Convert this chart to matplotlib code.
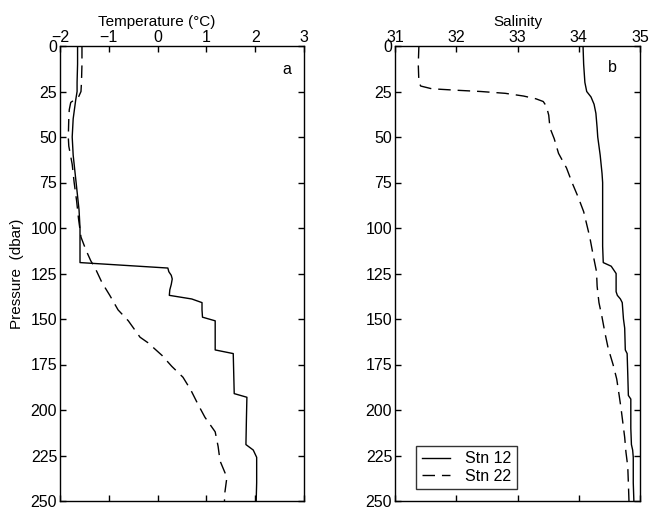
import matplotlib.pyplot as plt
import numpy as np

plt.rcParams['font.family'] = ['Liberation Sans', 'DejaVu Sans']

# Temperature profiles (pressure in dbar, temperature in degC)
p_t12 = [0, 10, 20, 25, 30, 40, 50, 60, 75, 90, 100, 110, 119, 122, 124, 126, 128, 131,
         134, 137, 139, 141, 145, 149, 151, 160, 167, 169, 180, 191, 193, 205, 219, 222,
         226, 240, 250]
t_stn12 = [-1.64, -1.64, -1.65, -1.65, -1.68, -1.73, -1.75, -1.73, -1.67, -1.61, -1.59,
           -1.59, -1.59, 0.21, 0.23, 0.28, 0.30, 0.28, 0.25, 0.24, 0.70, 0.91, 0.91, 0.92,
           1.18, 1.18, 1.18, 1.55, 1.56, 1.57, 1.83, 1.82, 1.81, 1.96, 2.03, 2.03, 2.02]

p_t22 = [0, 10, 20, 25, 28, 31, 35, 40, 50, 55, 65, 75, 85, 95, 105, 112, 118, 122, 130,
         137, 145, 151, 160, 163, 170, 176, 182, 189, 197, 204, 212, 220, 228, 237, 245, 250]
t_stn22 = [-1.55, -1.55, -1.56, -1.57, -1.62, -1.78, -1.81, -1.82, -1.83, -1.82, -1.75,
           -1.71, -1.66, -1.62, -1.57, -1.47, -1.37, -1.28, -1.14, -0.98, -0.81, -0.60,
           -0.36, -0.20, 0.09, 0.29, 0.52, 0.68, 0.83, 0.97, 1.18, 1.24, 1.28, 1.42, 1.38,
           1.37]

# Salinity profiles
p_s12 = [0, 10, 15, 20, 25, 28, 32, 37, 45, 50, 60, 70, 75, 90, 110, 119, 121, 123, 125,
         135, 137, 139, 141, 150, 155, 167, 169, 180, 192, 194, 210, 219, 222, 226, 240, 250]
s_stn12 = [34.07, 34.08, 34.09, 34.10, 34.13, 34.20, 34.25, 34.28, 34.30, 34.31, 34.35,
           34.38, 34.39, 34.39, 34.39, 34.40, 34.53, 34.57, 34.61, 34.61, 34.63, 34.68,
           34.71, 34.73, 34.75, 34.76, 34.79, 34.80, 34.81, 34.85, 34.85, 34.86, 34.88,
           34.89, 34.89, 34.90]

p_s22 = [0, 10, 20, 22, 23.5, 24.3, 25, 26, 27.5, 29, 30.5, 33, 38, 45, 51, 59, 67, 75,
         83, 91, 105, 114, 124, 132, 141, 149, 158, 166, 175, 183, 192, 199, 207, 215,
         223, 231, 240, 250]
s_stn22 = [31.39, 31.38, 31.39, 31.42, 31.60, 32.0, 32.4, 32.8, 33.1, 33.3, 33.42, 33.47,
           33.51, 33.53, 33.60, 33.67, 33.80, 33.89, 33.99, 34.08, 34.18, 34.23, 34.29,
           34.30, 34.33, 34.38, 34.43, 34.48, 34.56, 34.62, 34.66, 34.69, 34.72, 34.75,
           34.77, 34.80, 34.81, 34.82]

p_ticks = [0, 25, 50, 75, 100, 125, 150, 175, 200, 225, 250]
t_ticks = [-2, -1, 0, 1, 2, 3]
s_ticks = [31, 32, 33, 34, 35]

dash = (0, (9, 5))
fs = 11.5

fig = plt.figure(figsize=(6.52, 5.09), dpi=100)
ax1 = fig.add_axes([60 / 652, 8 / 509, 244 / 652, 455 / 509])
ax2 = fig.add_axes([395 / 652, 8 / 509, 245 / 652, 455 / 509])

ax1.plot(t_stn12, p_t12, color='black', lw=1.0, label='Stn 12')
ax1.plot(t_stn22, p_t22, color='black', lw=1.0, linestyle=dash, label='Stn 22')
ax2.plot(s_stn12, p_s12, color='black', lw=1.0, label='Stn 12')
ax2.plot(s_stn22, p_s22, color='black', lw=1.0, linestyle=dash, label='Stn 22')

ax1.set_xlim(-2, 3)
ax1.set_xticks(t_ticks)
ax2.set_xlim(31, 35)
ax2.set_xticks(s_ticks)

for ax in (ax1, ax2):
    ax.set_ylim(250, 0)
    ax.set_yticks(p_ticks)
    ax.xaxis.tick_top()
    ax.xaxis.set_label_position('top')
    ax.tick_params(axis='both', which='both', direction='in', length=4, width=1,
                   top=True, bottom=True, left=True, right=True,
                   labeltop=True, labelbottom=False, labelsize=fs, pad=2,
                   colors='black')
    ax.tick_params(axis='x', pad=0.5)
    for sp in ax.spines.values():
        sp.set_linewidth(1.0)

ax1.set_xlabel('Temperature (°C)', fontsize=11)
ax1.xaxis.set_label_coords(0.395, 1.043)
ax1.set_ylabel('Pressure  (dbar)', fontsize=11, labelpad=5)
ax2.set_xlabel('Salinity', fontsize=11)
ax2.xaxis.set_label_coords(0.5, 1.043)

ax1.text(2.65, 13, 'a', fontsize=fs, ha='center', va='center')
ax2.text(34.55, 12, 'b', fontsize=fs, ha='center', va='center')

leg = ax2.legend(loc='lower left', bbox_to_anchor=(0.086, 0.026), borderaxespad=0,
                 fontsize=fs, handlelength=1.75, handletextpad=0.95, borderpad=0.35,
                 labelspacing=0.15, fancybox=False, frameon=True)
leg.get_frame().set_edgecolor('black')
leg.get_frame().set_linewidth(1.0)

fig.savefig('out.png', dpi=100)
